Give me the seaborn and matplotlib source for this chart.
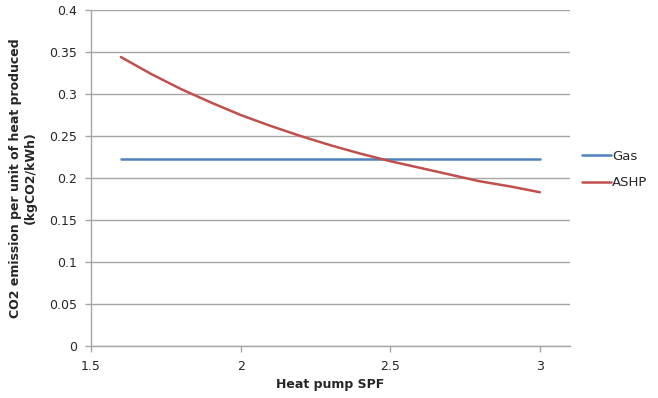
import matplotlib
matplotlib.use("Agg")
import matplotlib.pyplot as plt
import seaborn as sns
import pandas as pd

# Heat pump seasonal performance factor
spf = [1.6, 1.7, 1.8, 1.9, 2.0, 2.1, 2.2, 2.3, 2.4, 2.5, 2.6, 2.7, 2.8, 2.9, 3.0]
# CO2 emission per unit of heat produced (kgCO2/kWh)
gas = [0.223] * len(spf)
ashp = [0.344, 0.324, 0.306, 0.290, 0.275, 0.262, 0.250, 0.239,
        0.229, 0.220, 0.212, 0.204, 0.196, 0.190, 0.183]
series_names = ["Gas", "ASHP"]
colors = ["#4F81BD", "#C0504D"]

df = pd.concat([
    pd.DataFrame({"SPF": spf, "CO2": gas, "Source": series_names[0]}),
    pd.DataFrame({"SPF": spf, "CO2": ashp, "Source": series_names[1]}),
])

sns.set_style("white")
plt.rcParams["font.family"] = ["DejaVu Sans"]

fig = plt.figure(figsize=(6.58, 3.98), dpi=100)
ax = fig.add_axes([0.1383, 0.1307, 0.7277, 0.8442])

sns.lineplot(data=df, x="SPF", y="CO2", hue="Source", palette=colors,
             linewidth=1.8, ax=ax, legend=True)

ax.set_xlim(1.5, 3.1)
ax.set_ylim(0, 0.4)
ax.set_xticks([1.5, 2, 2.5, 3])
ax.set_xticklabels(["1.5", "2", "2.5", "3"])
ax.set_yticks([0, 0.05, 0.1, 0.15, 0.2, 0.25, 0.3, 0.35, 0.4])
ax.set_yticklabels(["0", "0.05", "0.1", "0.15", "0.2", "0.25", "0.3", "0.35", "0.4"])

ax.grid(axis="y", color="#A6A6A6", linewidth=1)
ax.grid(axis="x", visible=False)
ax.set_axisbelow(True)
for side in ["top", "right"]:
    ax.spines[side].set_visible(False)
for side in ["left", "bottom"]:
    ax.spines[side].set_color("#A6A6A6")
    ax.spines[side].set_linewidth(1)
ax.tick_params(axis="both", which="major", length=4, width=1, color="#A6A6A6",
               labelsize=9, labelcolor="#262626", direction="out",
               left=True, bottom=True, pad=6)

ax.set_xlabel("Heat pump SPF", fontsize=9, fontweight="bold", labelpad=4)
ax.set_ylabel("CO2 emission per unit of heat produced\n(kgCO2/kWh)",
              fontsize=9, fontweight="bold", labelpad=9)

leg = ax.legend(loc="center left", bbox_to_anchor=(1.0, 0.525), frameon=False,
                fontsize=9.5, handlelength=2.2, handletextpad=0.1, labelspacing=1.0)
for line in leg.get_lines():
    line.set_linewidth(1.8)

fig.savefig("out.png", dpi=100)
